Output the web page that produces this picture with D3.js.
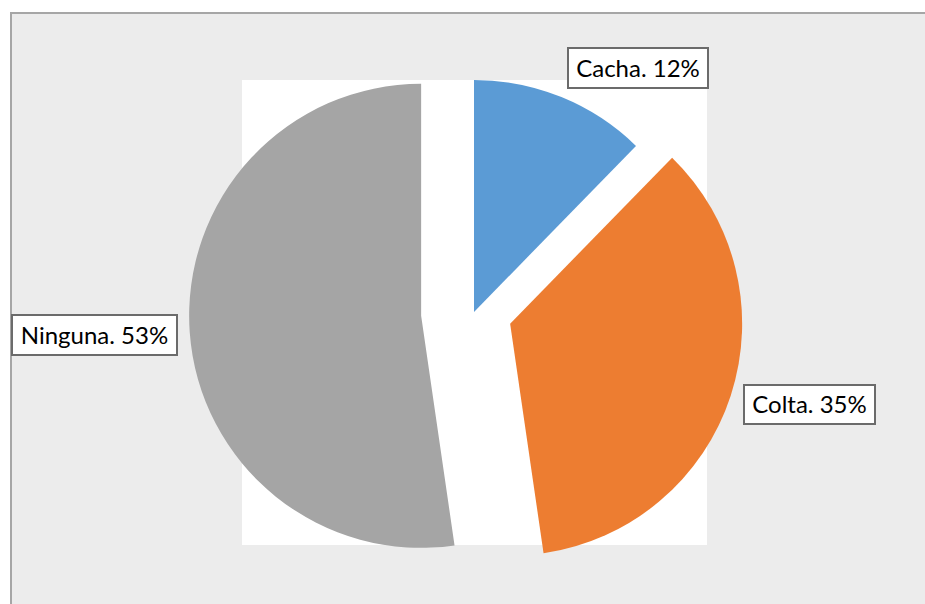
<!DOCTYPE html>
<html>
<head>
<meta charset="utf-8">
<script src="https://cdn.jsdelivr.net/npm/d3@7"></script>
<style>
  html, body { margin: 0; padding: 0; background: #fff; }
  svg { display: block; }
</style>
</head>
<body>
<script>
// data
const categories = ["Cacha", "Colta", "Ninguna"];
const shares = [12.3, 35.4, 52.3];
const labels = ["Cacha. 12%", "Colta. 35%", "Ninguna. 53%"];

const colors = ["#5b9bd5", "#ed7d31", "#a5a5a5"];
const explode = [0, 38, 53];

const width = 925, height = 604;
const radius = 232;
const cx = 474, cy = 312;

const svg = d3.select("body").append("svg")
    .attr("width", width)
    .attr("height", height);

// chart area background + border
svg.append("rect")
    .attr("x", 11).attr("y", 13)
    .attr("width", width - 11).attr("height", height - 13)
    .attr("fill", "#ececec");
svg.append("path")
    .attr("d", `M11,${height} V13 H${width}`)
    .attr("fill", "none")
    .attr("stroke", "#a6a6a6")
    .attr("stroke-width", 2);

// plot area
svg.append("rect")
    .attr("x", 242).attr("y", 80)
    .attr("width", 465).attr("height", 465)
    .attr("fill", "#fff");

const pie = d3.pie().sort(null).value(d => d)(shares);
const arc = d3.arc().innerRadius(0).outerRadius(radius);

svg.append("g")
    .attr("transform", `translate(${cx},${cy})`)
  .selectAll("path")
  .data(pie)
  .join("path")
    .attr("d", arc)
    .attr("fill", (d, i) => colors[i])
    .attr("transform", (d, i) => {
      const a = (d.startAngle + d.endAngle) / 2;
      return `translate(${explode[i] * Math.sin(a)},${-explode[i] * Math.cos(a)})`;
    });

// data labels (boxes)
const boxes = [
  {x: 568, y: 48, w: 140, h: 40},
  {x: 744, y: 385, w: 131, h: 39},
  {x: 12, y: 315, w: 165, h: 40}
];

const lab = svg.append("g").selectAll("g")
  .data(labels)
  .join("g")
    .attr("transform", (d, i) => `translate(${boxes[i].x},${boxes[i].y})`);

lab.append("rect")
    .attr("width", (d, i) => boxes[i].w)
    .attr("height", (d, i) => boxes[i].h)
    .attr("fill", "#fff")
    .attr("stroke", "#6b6b6b")
    .attr("stroke-width", 2);

lab.append("text")
    .attr("x", (d, i) => boxes[i].w / 2)
    .attr("y", (d, i) => boxes[i].h / 2 + 8.5)
    .attr("text-anchor", "middle")
    .attr("font-family", "Lato, 'Open Sans', sans-serif")
    .attr("font-size", 24)
    .attr("fill", "#000")
    .text(d => d);
</script>
</body>
</html>
